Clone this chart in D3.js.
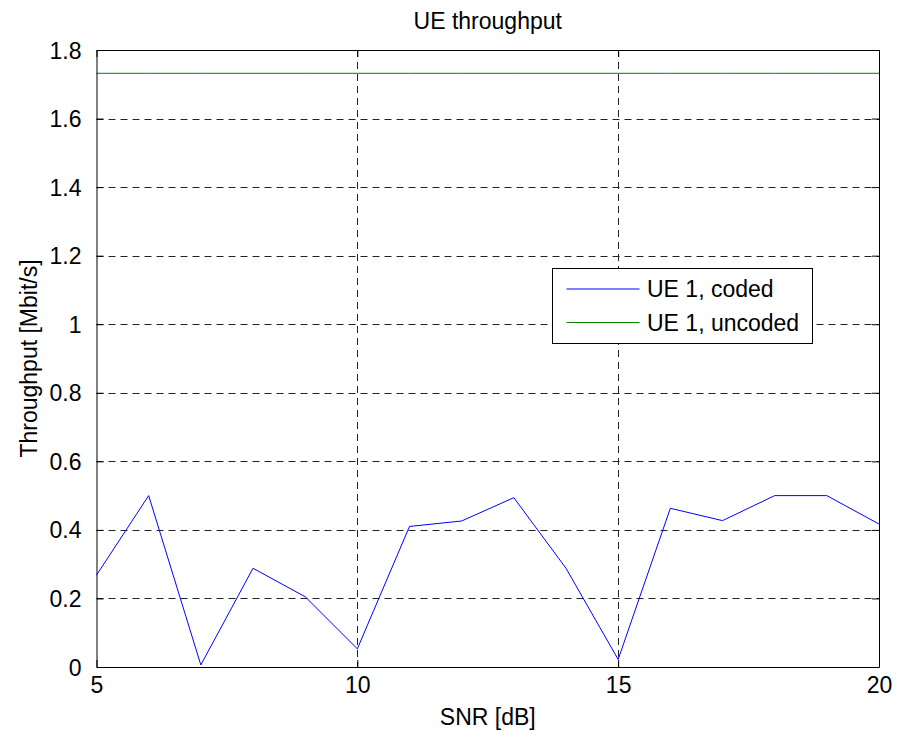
<!DOCTYPE html>
<html>
<head>
<meta charset="utf-8">
<script src="https://cdn.jsdelivr.net/npm/d3@7"></script>
<style>
  body { margin: 0; background: #fff; }
  svg text { font-family: "Liberation Sans", Arial, sans-serif; fill: #000; }
</style>
</head>
<body>
<svg id="chart" width="908" height="731"></svg>
<script>
// data
let snr = [5, 6, 7, 8, 9, 10, 11, 12, 13, 14, 15, 16, 17, 18, 19, 20];
let coded = [0.268, 0.5, 0.006, 0.288, 0.205, 0.053, 0.41, 0.426, 0.494, 0.288, 0.022, 0.463, 0.427, 0.5, 0.5, 0.417];
let uncoded = [1.732, 1.732, 1.732, 1.732, 1.732, 1.732, 1.732, 1.732, 1.732, 1.732, 1.732, 1.732, 1.732, 1.732, 1.732, 1.732];
let xTicks = [5, 10, 15, 20];
let yTicks = [0, 0.2, 0.4, 0.6, 0.8, 1, 1.2, 1.4, 1.6, 1.8];
let seriesNames = ["UE 1, coded", "UE 1, uncoded"];
let seriesColors = ["#0000ff", "#008000"];

let svg = d3.select("#chart");
let width = +svg.attr("width");
let height = +svg.attr("height");
let margin = { top: 50, right: 29, bottom: 64, left: 96.5 };
let fontSize = 23;

let x = d3.scaleLinear().domain([5, 20]).range([margin.left, width - margin.right]);
let y = d3.scaleLinear().domain([0, 1.8]).range([height - margin.bottom, margin.top]);

let x0 = x.range()[0], x1 = x.range()[1];
let y0 = y.range()[0], y1 = y.range()[1];
let tickLen = 7;

// grid
let grid = svg.append("g")
    .attr("stroke", "#222")
    .attr("stroke-width", 1)
    .attr("stroke-dasharray", "7,5");

grid.selectAll(".gx")
    .data(xTicks.slice(1, -1))
    .enter().append("line")
    .attr("x1", d => Math.round(x(d)) + 0.5)
    .attr("x2", d => Math.round(x(d)) + 0.5)
    .attr("y1", y1)
    .attr("y2", y0);

grid.selectAll(".gy")
    .data(yTicks.slice(1, -1))
    .enter().append("line")
    .attr("x1", x0)
    .attr("x2", x1)
    .attr("y1", d => Math.round(y(d)) + 0.5)
    .attr("y2", d => Math.round(y(d)) + 0.5);

// lines
let line = d3.line()
    .x((d, i) => x(snr[i]))
    .y(d => y(d));

svg.append("path")
    .datum(coded)
    .attr("fill", "none")
    .attr("stroke", seriesColors[0])
    .attr("stroke-width", 1)
    .attr("d", line);

svg.append("path")
    .datum(uncoded)
    .attr("fill", "none")
    .attr("stroke", seriesColors[1])
    .attr("stroke-width", 1)
    .attr("d", line);

// axes: ticks inward on all four sides
let fmt = d => String(d);

let axBottom = svg.append("g")
    .attr("transform", `translate(0,${y0})`)
    .call(d3.axisBottom(x).tickValues(xTicks).tickFormat(fmt).tickSizeInner(-tickLen).tickSizeOuter(0).tickPadding(tickLen + 14));
let axTop = svg.append("g")
    .attr("transform", `translate(0,${y1})`)
    .call(d3.axisTop(x).tickValues(xTicks).tickFormat("").tickSizeInner(-tickLen).tickSizeOuter(0));
let axLeft = svg.append("g")
    .attr("transform", `translate(${x0},0)`)
    .call(d3.axisLeft(y).tickValues(yTicks).tickFormat(fmt).tickSizeInner(-tickLen).tickSizeOuter(0).tickPadding(tickLen + 8));
let axRight = svg.append("g")
    .attr("transform", `translate(${x1},0)`)
    .call(d3.axisRight(y).tickValues(yTicks).tickFormat("").tickSizeInner(-tickLen).tickSizeOuter(0));

[axBottom, axTop, axLeft, axRight].forEach(a => {
    a.select(".domain").attr("stroke", "#000").attr("stroke-width", 1);
    a.selectAll(".tick line").attr("stroke", "#000");
    a.selectAll("text")
        .style("font-size", fontSize + "px")
        .style("font-family", "'Liberation Sans', Arial, sans-serif")
        .attr("fill", "#000");
});
axBottom.selectAll("text").attr("dy", "0.2em");
axLeft.selectAll("text").attr("dy", "0.35em");

// title and labels
svg.append("text")
    .attr("x", (x0 + x1) / 2)
    .attr("y", 29)
    .attr("text-anchor", "middle")
    .style("font-size", fontSize + "px")
    .text("UE throughput");

svg.append("text")
    .attr("x", (x0 + x1) / 2)
    .attr("y", 725)
    .attr("text-anchor", "middle")
    .style("font-size", fontSize + "px")
    .text("SNR [dB]");

svg.append("text")
    .attr("transform", `translate(37,${(y0 + y1) / 2}) rotate(-90)`)
    .attr("text-anchor", "middle")
    .style("font-size", fontSize + "px")
    .text("Throughput [Mbit/s]");

// legend
let legend = svg.append("g").attr("transform", "translate(552.5,268.5)");

legend.append("rect")
    .attr("width", 260)
    .attr("height", 75)
    .attr("fill", "#fff")
    .attr("stroke", "#000")
    .attr("stroke-width", 1);

let items = legend.selectAll(".item")
    .data(seriesNames)
    .enter().append("g")
    .attr("transform", (d, i) => `translate(0,${20.5 + i * 33.5})`);

items.append("line")
    .attr("x1", 14)
    .attr("x2", 87)
    .attr("stroke", (d, i) => seriesColors[i])
    .attr("stroke-width", 1);

items.append("text")
    .attr("x", 94.5)
    .attr("dy", "0.36em")
    .style("font-size", fontSize + "px")
    .text(d => d);
</script>
</body>
</html>
